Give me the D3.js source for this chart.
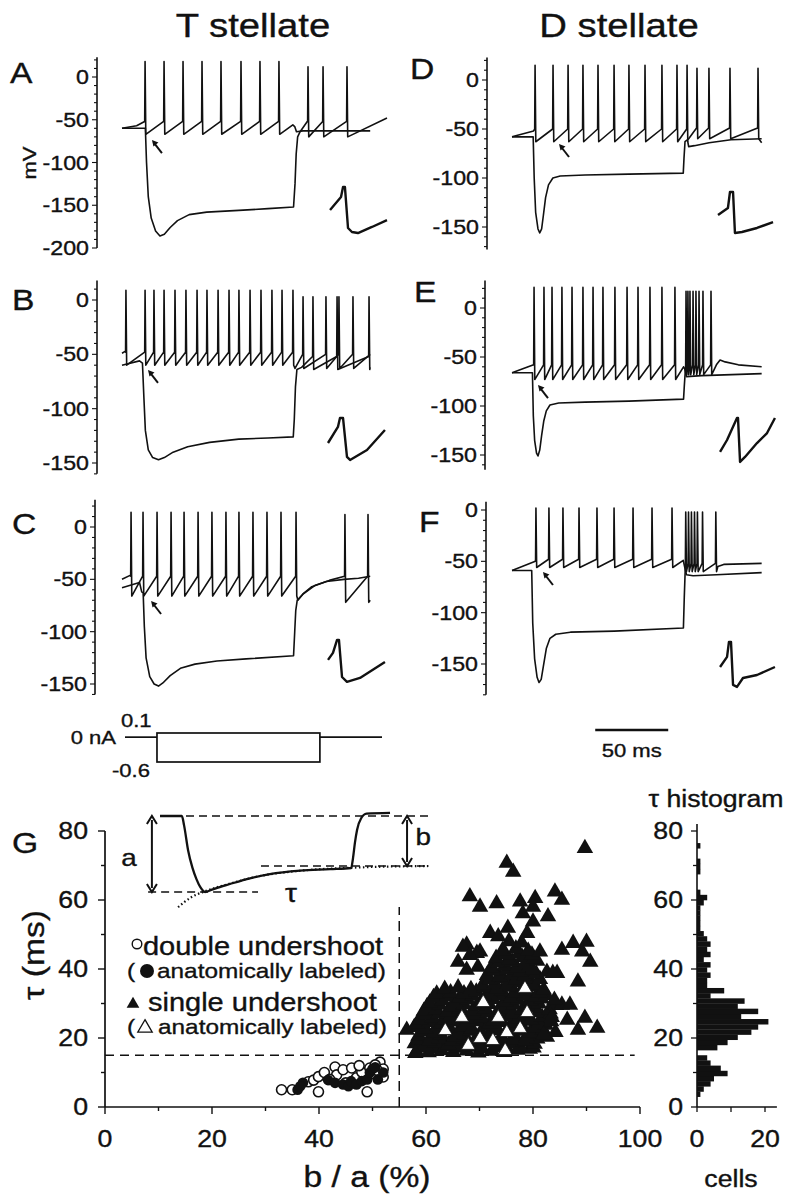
<!DOCTYPE html>
<html><head><meta charset="utf-8">
<script src="https://cdn.jsdelivr.net/npm/d3@7"></script>
<style>
body{margin:0;background:#fff}
svg{display:block}
text{font-family:"Liberation Sans",Arial,sans-serif;fill:#111;stroke:#111;stroke-width:0.35px}
</style></head><body>
<svg id="fig" width="785" height="1199"></svg>
<script>
// ---------------- DATA ----------------
const mvTicks = [0,-50,-100,-150,-200];

// Panel A (T stellate)
const A_depPre = [[0,-60],[10,-57],[15.5,-52]];
const A_depSpikes = [15.8,28.8,41.8,54.8,67.8,81.5,94.5,107.5];
const A_depPost = [[117,-56],[118.3,-58],[119.5,-64],[124,-63],[170,-63]];
const A_hypPre = [[0,-60],[16,-60],[16.8,-100],[18,-140],[20,-165],[23,-180],[26,-186],[29,-184],[33,-176],[38,-168],[46,-161],[58,-158],[80,-156],[100,-154],[117.5,-152],[118.5,-125],[119.3,-90],[120.3,-70],[122,-64],[126.9,-52]];
const A_hypSpikes = [127.4,137.7,154.1];
const A_hypPost = [[181.5,-48]];
const A_inset = [[142.5,-155.6],[150,-140.4],[151.4,-128.7],[152.7,-128.7],[154.8,-176.6],[157.5,-181.3],[161.6,-182.5],[171.2,-175.4],[181.5,-167.3]];
const A_arrow = [20.5,-73.7];

// Panel B
const B_depPre = [[0,-49],[2.4,-47]];
const B_depSpikes = [2.7,15.8,21.9,28.8,36.3,43.8,51.4,58.2,65.8,73.3,80.1,87.7,95.2,102.7,109.6,117.1];
const B_depMid = [[118.5,-63]];
const B_depSpikes2 = [124,139.7,148.6,158.2];
const B_depPost = [[170,-50]];
const B_hypPre = [[0,-60],[12,-56],[14,-58],[15,-90],[16,-120],[18,-138],[21,-145],[25,-147],[29,-145],[35,-140],[45,-135],[60,-131],[80,-128],[100,-127],[117.3,-126],[118,-110],[118.8,-80],[119.8,-64],[123,-62],[130.5,-52]];
const B_hypSpikes = [130.8,147.3,169.2];
const B_hypPost = [[170,-62]];
const B_inset = [[141.1,-131.6],[147.9,-116.8],[149.3,-108.6],[151.4,-108.6],[154.1,-144.4],[156.2,-147.2],[167.8,-138],[180.1,-119.6]];
const B_arrow = [17.8,-64.4];

// Panel C
const C_depPre = [[0,-50],[5.9,-46]];
const C_depSpikes = [6.2,14.4,24,33.6,42.5,52.1,61.6,71.2,80.1,89.7,99.3,108.9,119.2];
const C_depPost = [[120.5,-70],[124,-64],[130,-57],[140,-52],[152,-50],[162,-49],[170,-47]];
const C_hypPre = [[0,-58],[12,-53],[13.5,-62],[14.5,-63],[15.3,-95],[16.5,-125],[19,-143],[22,-150],[25,-152],[28,-149],[33,-142],[40,-135],[50,-131],[65,-128],[85,-126],[117.5,-123],[118.3,-100],[119,-80],[120,-70],[124,-64],[132,-56],[142,-51],[152.4,-47]];
const C_hypSpikes = [152.7,168.5];
const C_hypPost = [[170,-70]];
const C_inset = [[141.1,-127],[144.5,-120.3],[147.3,-107.9],[148.6,-107.9],[150.7,-143.3],[154.1,-148],[163,-144.2],[180.1,-128.9]];
const C_arrow = [19.9,-70.7];

// Panel D (D stellate)
const D_depPre = [[0,-58],[14.8,-52]];
const D_depSpikes = [15.8,28.1,38.4,48.6,58.9,69.9,80.1,91.1,102.7,113,119.9];
const D_depPost = [[121,-68],[125,-67],[135,-64],[150,-61],[171,-60]];
const D_hypPre = [[0,-58],[14.5,-58],[15.2,-100],[16.2,-135],[17.8,-152],[19,-156],[20.3,-152],[21.5,-138],[23,-120],[25,-107],[28,-100],[33,-98],[50,-97],[80,-96],[117.3,-95],[117.8,-80],[118.5,-63],[121,-60],[126.4,-49]];
const D_hypSpikes = [126.7,134.9,149.3,168.5];
const D_hypPost = [[171,-64]];
const D_inset = [[141.1,-137.8],[147.9,-130.6],[149.3,-114.3],[151.4,-114.3],[152.7,-156.1],[157.5,-155.1],[167.8,-151],[178.8,-144.9]];
const D_arrow = [32.2,-65.3];

// Panel E
const E_depPre = [[0,-66],[14.8,-58]];
const E_depSpikes = [15.1,21.9,27.4,34.2,41.1,48.6,55.5,62.3,70.5,78.8,86.3,94.5,102.7,111.6];
const E_depPost = [[117.5,-60],[118.3,-62],[119.5,-70],[130,-69],[171,-67]];
const E_hypPre = [[0,-66],[14,-66],[14.6,-110],[15.5,-135],[16.8,-148],[17.8,-151],[19,-145],[20.3,-130],[21.8,-115],[23.5,-105],[26,-99],[32,-97],[50,-96],[80,-95],[117.5,-93],[118,-80],[118.8,-62]];
const E_hypSpikes = [119.2,120.5,121.9,124,126,128.1,130.8,136.3];
const E_hypPost = [[140,-58],[142.5,-53],[146,-55],[155,-58],[171,-60]];
const E_inset = [[142.5,-146.9],[147.3,-134.7],[154.1,-112.2],[154.8,-112.2],[156.2,-157.1],[159.6,-152],[167.8,-137.8],[174.7,-127.6],[180.1,-112.2]];
const E_arrow = [17.8,-78.6];

// Panel F
const F_depPre = [[0,-59],[16,-50]];
const F_depSpikes = [16.4,25.3,34.9,45.9,58.2,69.9,82.9,95.9,109.6];
const F_depPost = [[117.3,-49],[118.2,-55],[119.5,-63],[124,-64],[140,-63],[171,-61]];
const F_hypPre = [[0,-59],[13.5,-59],[14.2,-110],[15.5,-145],[17.2,-163],[18.5,-168],[20,-165],[21.5,-152],[23.5,-135],[26,-125],[30,-121],[40,-119],[70,-118],[117.4,-115],[118,-85],[118.6,-60]];
const F_hypSpikes = [119,120.9,122.9,125,127,130.5,139.6];
const F_hypPost = [[141,-55],[145,-53],[171,-52]];
const F_inset = [[142.5,-152.9],[147.3,-143.1],[148.6,-128.5],[150,-128.5],[151.4,-170.4],[154.1,-172.3],[158.2,-163.6],[167.8,-160.7],[180.1,-152.9]];
const F_arrow = [21.2,-60.4];

// current step protocol (ms, nA)
const stepOn = 22.4, stepOff = 136.5, stepEnd = 180;
const stepLevels = [0.1, -0.6];
const scaleBarMs = [57, 107];

// Panel G scatter: [b/a %, tau ms]
const singleBlack = [
[58.2,16.1],[60.5,15.8],[62.9,16.4],[65.1,15.9],[67.6,16.3],[69.8,15.7],[72.3,16.2],[74.6,15.9],[77.1,16.5],[79.4,16.8],
[59.1,17.2],[61.4,17.0],[63.6,17.5],[66.0,17.1],[68.3,17.4],[70.5,16.9],[72.9,17.3],[75.2,17.0],[77.6,17.6],[80.1,17.2],
[57.9,18.4],[59.8,17.9],[61.7,18.6],[64.2,18.1],[66.4,18.8],[68.9,18.2],[71.2,18.7],[73.5,18.0],[75.9,18.5],[78.2,18.9],[80.3,18.3],
[58.4,19.5],[60.6,19.1],[62.5,19.8],[64.9,19.3],[67.1,19.7],[69.4,19.2],[71.6,19.9],[73.9,19.4],[76.3,19.6],[78.6,19.1],[80.8,19.8],[82.6,20.3],
[58.6,20.6],[60.9,20.2],[62.8,21.0],[65.3,20.4],[67.2,20.9],[69.5,20.3],[71.8,21.1],[74.1,20.5],[76.5,20.8],[78.8,20.2],[81.0,21.3],
[59.2,21.8],[61.5,21.6],[63.7,22.1],[66.0,21.7],[68.2,22.0],[70.4,21.5],[72.6,22.2],[75.0,21.8],[77.3,22.0],[79.5,21.6],[81.9,22.4],[84.2,21.7],
[57.8,23.1],[59.9,22.7],[62.1,23.4],[64.4,22.9],[66.7,23.3],[68.6,22.6],[70.9,23.5],[73.2,22.8],[75.6,23.2],[77.9,23.6],[80.2,22.9],[82.4,23.8],
[58.3,24.2],[60.6,24.6],[62.8,24.1],[65.1,24.7],[67.4,24.3],[69.6,24.8],[71.9,24.2],[74.2,24.6],[76.6,24.4],[78.9,24.9],[81.1,24.3],[83.4,24.8],
[58.9,25.4],[61.2,25.9],[63.5,25.2],[65.8,26.0],[68.1,25.5],[70.4,25.8],[72.7,25.1],[74.9,26.2],[77.3,25.6],[79.6,25.3],[81.7,26.1],
[60.1,26.7],[62.4,27.1],[64.7,26.6],[67.0,27.2],[69.3,26.8],[71.6,27.3],[73.9,26.6],[76.2,27.1],[78.6,26.9],[80.9,27.4],[83.3,27.0],
[59.6,27.8],[61.9,28.3],[64.0,27.6],[66.3,28.5],[68.7,27.9],[71.0,28.4],[73.4,27.7],[75.7,28.6],[78.0,28.1],[80.4,28.8],[83.1,28.3],
[60.2,29.2],[62.5,29.6],[64.8,29.1],[67.1,29.7],[69.5,29.3],[71.8,29.8],[74.1,29.2],[76.4,29.6],[78.8,29.4],[81.1,29.9],[84.3,29.5],
[60.7,30.2],[63.1,30.9],[65.4,30.4],[67.8,31.1],[70.3,30.6],[72.5,31.2],[74.8,30.5],[77.2,31.0],[79.5,30.7],[81.6,31.4],
[61.4,31.8],[63.9,32.1],[66.3,31.7],[68.7,32.2],[71.1,31.9],[73.6,32.3],[75.9,31.7],[78.3,32.2],[80.5,31.9],[82.5,32.4],
[62.0,32.8],[64.6,33.2],[67.1,32.9],[69.4,33.4],[71.9,33.0],[74.2,33.6],[76.6,33.1],[78.9,33.7],[81.2,33.2],
[63.5,34.2],[66.0,34.6],[68.4,34.1],[70.9,34.5],[73.3,34.3],[75.8,34.8],[78.1,34.4],[80.4,34.9],
[70.6,35.4],[72.9,35.9],[75.3,35.6],[77.6,36.1],[79.9,35.5],
[71.9,36.9],[74.4,37.3],[76.8,36.8],[79.2,37.2],[81.3,37.0],
[71.4,38.2],[73.8,37.8],[76.1,38.5],[78.4,38.0],[80.6,38.6],
[72.7,39.4],[75.2,39.8],[77.6,39.3],[79.9,39.7],
[72.2,40.4],[74.7,40.9],[77.0,40.3],[79.3,40.8],
[73.6,41.8],[76.1,42.2],[78.6,41.7],[80.8,42.3],
[73.1,43.2],[75.6,42.7],[78.0,43.4],[80.2,42.9],
[74.9,44.2],[77.4,44.6],[79.8,44.1],
[74.3,45.4],[76.8,45.9],[79.1,45.2],[75.5,48.0],[77.9,47.6],
[89.7,75],[75.1,70.7],[76.3,68.1],[68.2,61],[70.1,58],[73.2,59],[77.6,59.5],[80.4,60.5],[84.1,62.4],[85.4,60],[80,58],[78.1,56.1],
[82.8,55.2],[80,53.7],[75.3,51.9],[72,50.4],[73.5,49.4],[78.9,50.4],[67.6,47],[69.5,44.6],[66,42],[67.6,39.7],[69.7,40.6],
[81.3,45],[85.4,45.5],[87.5,47.5],[90,47.8],[89.2,45],[90.7,42],[82.6,39.1],[84.5,38.8],[88.4,36.3],[56.4,22.3],[58,15.6],
[92,22.9],[88.4,22.3],[86.4,25.2],[89.7,25.8],[85.4,29.6],[86.9,29.6],[83.7,38.8],[66.9,46.4],[70.1,45],[68.2,44],[82,34],[84,31],[83.5,26],[82,21]
];
const singleLabeled = [[70.7,30.4],[66.7,26.1],[73.5,26.1],[63.6,22.3],[70.1,20],[72.5,19.4],[67.9,18],[75.1,21.7],[77.6,22.9],[78.9,27.5],[74.8,16.5],[78.5,34.5]];
const doubleOpen = [[33,5],[35,5],[38,7.3],[39,7.8],[39.9,4.4],[39.9,8.8],[41,10],[43,11.6],[43.3,9.3],[44.5,10.8],[46.1,11.3],[47,8.5],[48,10.1],[49,4.4],[49.5,11.3],[50.5,9.5],[51.4,13],[52,8.7],[52,11],[42,8],[45,7],[47.5,12],[50.5,12.2],[51,10.5]];
const doubleLabeled = [[36,5],[37,7],[36.5,6],[41.7,7.8],[43,7],[44.5,6.5],[45.5,6],[46,7.5],[47,6.5],[48,7.5],[49,8],[49.5,10],[50,11],[50.5,11.5],[51,8],[52,10]];
const tauThreshold = 15, ratioThreshold = 55;
const gXTicks = [0,20,40,60,80,100];
const gYTicks = [0,20,40,60,80];

// tau histogram: bin lower edge (ms), width 1.5, cell counts
const histBins = [3,4.5,6,7.5,9,10.5,12,13.5,15,16.5,18,19.5,21,22.5,24,25.5,27,28.5,30,31.5,33,34.5,36,37.5,39,40.5,42,43.5,45,46.5,48,49.5,51,52.5,54,55.5,57,58.5,60,61.5,67.5,69,70.5,75];
const histCounts = [1,2,4,5,9,7,4,3,0,6,9,12,16,18,21,13,18,12,14,4,8,3,3,4,3,4,2,4,3,4,3,2,1,1,1,1,1,2,3,1,1,1,1,1];
const histXTicks = [0,20];

// G inset schematic (u: time units 0-100, v: level, 0 = trough, 1 = baseline)
const insetTrace = [[0,1],[8.1,1],[8.9,0.88],[10.4,0.55],[12,0.32],[13.5,0.17],[15,0.06],[16.7,0],[18.5,0.02],[20.4,0.045],[25.9,0.105],[33.3,0.18],[40.7,0.235],[51.9,0.28],[63,0.3],[70.8,0.316],[71.5,0.45],[72.2,0.65],[73,0.82],[74.5,0.97],[76.5,1.03],[85.2,1.04]];
const insetFit = [[6.7,-0.2],[11.5,-0.07],[16.7,0.01],[25.9,0.11],[37,0.21],[51.9,0.28],[70,0.318],[85,0.335],[100,0.342]];
const insetB = 0.342;

// ---------------- DRAWING ----------------
const svg = d3.select('#fig');
const SX = 1.16;
function txt(g, s, x, y, size, anchor, rot, weight){
  const t = g.append('text')
    .attr('transform', `translate(${x},${y})` + (rot?` rotate(${rot})`:'') + ` scale(${SX},1)`)
    .attr('font-size', size).attr('text-anchor', anchor||'start').text(s);
  if(weight) t.attr('font-weight', weight);
  return t;
}

function buildTrace(parts){
  const pts = [];
  parts.forEach(p => {
    if (Array.isArray(p)) p.forEach(d => pts.push(d));
    else p.spikes.forEach(ts => { pts.push([ts-0.25,p.thr]); pts.push([ts,p.peak]); pts.push([ts+0.5,p.trough]); });
  });
  return pts;
}

const colL = d3.scaleLinear().domain([0,100]).range([122,268]);
const colR = d3.scaleLinear().domain([0,100]).range([512,658]);

const panels = [
  {L:'A', x:colL, ax:97, y:d3.scaleLinear().domain([0,-200]).range([77,248]), ext:[23,-200], lp:[10,83], mV:true,
   traces:[buildTrace([A_depPre,{spikes:A_depSpikes,thr:-52,peak:18,trough:-67},A_depPost]),
           buildTrace([A_hypPre,{spikes:A_hypSpikes,thr:-52,peak:12,trough:-70},A_hypPost])], inset:A_inset, arrow:A_arrow},
  {L:'B', x:colL, ax:97, y:d3.scaleLinear().domain([0,-150]).range([300,463]), ext:[18,-160], lp:[12,310],
   traces:[buildTrace([B_depPre,{spikes:B_depSpikes,thr:-48,peak:9,trough:-60},B_depMid,{spikes:B_depSpikes2,thr:-50,peak:3,trough:-63},B_depPost]),
           buildTrace([B_hypPre,{spikes:B_hypSpikes,thr:-52,peak:3,trough:-64},B_hypPost])], inset:B_inset, arrow:B_arrow},
  {L:'C', x:colL, ax:95, y:d3.scaleLinear().domain([0,-150]).range([527,684]), ext:[26,-160], lp:[12,534],
   traces:[buildTrace([C_depPre,{spikes:C_depSpikes,thr:-47,peak:14,trough:-66},C_depPost]),
           buildTrace([C_hypPre,{spikes:C_hypSpikes,thr:-47,peak:12,trough:-72},C_hypPost])], inset:C_inset, arrow:C_arrow},
  {L:'D', x:colR, ax:487, y:d3.scaleLinear().domain([0,-150]).range([80,227]), ext:[23,-173], lp:[410,79],
   traces:[buildTrace([D_depPre,{spikes:D_depSpikes,thr:-50,peak:15,trough:-63},D_depPost]),
           buildTrace([D_hypPre,{spikes:D_hypSpikes,thr:-49,peak:12,trough:-60},D_hypPost])], inset:D_inset, arrow:D_arrow},
  {L:'E', x:colR, ax:485, y:d3.scaleLinear().domain([0,-150]).range([308,455]), ext:[28,-165], lp:[414,302],
   traces:[buildTrace([E_depPre,{spikes:E_depSpikes,thr:-58,peak:21,trough:-73},E_depPost]),
           buildTrace([E_hypPre,{spikes:E_hypSpikes,thr:-58,peak:17,trough:-68},E_hypPost])], inset:E_inset, arrow:E_arrow},
  {L:'F', x:colR, ax:486, y:d3.scaleLinear().domain([0,-150]).range([510,664]), ext:[8,-180], lp:[419,532],
   traces:[buildTrace([F_depPre,{spikes:F_depSpikes,thr:-48,peak:2,trough:-56},F_depPost]),
           buildTrace([F_hypPre,{spikes:F_hypSpikes,thr:-52,peak:-2,trough:-60},F_hypPost])], inset:F_inset, arrow:F_arrow}
];

txt(svg,'T stellate',253,37,33,'middle');
txt(svg,'D stellate',619,37,33,'middle');

panels.forEach(p => {
  const g = svg.append('g');
  g.append('line').attr('x1',p.ax).attr('x2',p.ax).attr('y1',p.y(p.ext[0])).attr('y2',p.y(p.ext[1]))
    .attr('stroke','#111').attr('stroke-width',1.6);
  for(let v=0; v>=p.ext[1]; v-=10){
    const major = v%50===0;
    g.append('line').attr('x1',p.ax-(major?5:3)).attr('x2',p.ax).attr('y1',p.y(v)).attr('y2',p.y(v))
      .attr('stroke','#111').attr('stroke-width',1.1);
  }
  for(let v=10; v<=p.ext[0]; v+=10){
    g.append('line').attr('x1',p.ax-3).attr('x2',p.ax).attr('y1',p.y(v)).attr('y2',p.y(v)).attr('stroke','#111').attr('stroke-width',1.1);
  }
  mvTicks.filter(v=>v>=p.ext[1]).forEach(v => txt(g, String(v), p.ax-8, p.y(v)+7, 20, 'end'));
  txt(g, p.L, p.lp[0], p.lp[1], 29, 'start');
  if(p.mV) txt(g,'mV',36,163,19,'middle',-90);
  const line = d3.line().x(d=>p.x(d[0])).y(d=>p.y(d[1]));
  p.traces.forEach(tr => g.append('path').attr('d',line(tr)).attr('fill','none').attr('stroke','#111')
      .attr('stroke-width',1.6).attr('stroke-linejoin','round'));
  g.append('path').attr('d',line(p.inset)).attr('fill','none').attr('stroke','#111').attr('stroke-width',2.4).attr('stroke-linejoin','round');
  const tx = p.x(p.arrow[0]), ty = p.y(p.arrow[1]);
  g.append('line').attr('x1',tx+3).attr('y1',ty+4).attr('x2',tx+10).attr('y2',ty+13).attr('stroke','#111').attr('stroke-width',2);
  g.append('path').attr('d',`M${tx},${ty} L${tx+6.5},${ty+2.5} L${tx+1.5},${ty+6.5} Z`).attr('fill','#111');
});

// current protocol
const sx = d3.scaleLinear().domain([0,stepEnd]).range([125,382]);
const sy = d3.scaleLinear().domain(stepLevels).range([733,762]);
const pg = svg.append('g').attr('fill','none').attr('stroke','#111').attr('stroke-width',1.7);
pg.append('line').attr('x1',sx(0)).attr('x2',sx(stepOn)).attr('y1',sy(0)).attr('y2',sy(0));
pg.append('line').attr('x1',sx(stepOff)).attr('x2',sx(stepEnd)).attr('y1',sy(0)).attr('y2',sy(0));
pg.append('rect').attr('x',sx(stepOn)).attr('y',sy(stepLevels[0])).attr('width',sx(stepOff)-sx(stepOn)).attr('height',sy(stepLevels[1])-sy(stepLevels[0]));
txt(svg,'0 nA',116,744,19,'end');
txt(svg,String(stepLevels[0]),121,727,19,'start');
txt(svg,String(stepLevels[1]),112,777,19,'start');

// scale bar
svg.append('line').attr('x1',colR(scaleBarMs[0])).attr('x2',colR(scaleBarMs[1])).attr('y1',730).attr('y2',730).attr('stroke','#111').attr('stroke-width',2.6);
txt(svg,(scaleBarMs[1]-scaleBarMs[0])+' ms',colR((scaleBarMs[0]+scaleBarMs[1])/2),757,19,'middle');

// ---------------- Panel G ----------------
const gx = d3.scaleLinear().domain([0,100]).range([105,640]);
const gy = d3.scaleLinear().domain([0,80]).range([1107,831]);
const G = svg.append('g');
G.append('line').attr('x1',gx(0)).attr('x2',gx(100)).attr('y1',gy(0)).attr('y2',gy(0)).attr('stroke','#111').attr('stroke-width',1.7);
G.append('line').attr('x1',gx(0)).attr('x2',gx(0)).attr('y1',gy(0)).attr('y2',gy(80)).attr('stroke','#111').attr('stroke-width',1.7);
for(let v=0; v<=100; v+=10){
  G.append('line').attr('x1',gx(v)).attr('x2',gx(v)).attr('y1',gy(0)).attr('y2',gy(0)+(v%20===0?7:4)).attr('stroke','#111').attr('stroke-width',1.4);
}
for(let v=0; v<=80; v+=10){
  G.append('line').attr('x1',gx(0)-(v%20===0?7:4)).attr('x2',gx(0)).attr('y1',gy(v)).attr('y2',gy(v)).attr('stroke','#111').attr('stroke-width',1.4);
}
gXTicks.forEach(v => txt(G,String(v),gx(v),1147,23,'middle'));
gYTicks.forEach(v => txt(G,String(v),88,gy(v)+8,23,'end'));
txt(G,'b / a (%)',367,1187,29,'middle');
txt(G,'τ (ms)',44,955,29,'middle',-90);
txt(G,'G',12,853,29,'start');

G.append('line').attr('x1',gx(0)).attr('x2',gx(99)).attr('y1',gy(tauThreshold)).attr('y2',gy(tauThreshold))
  .attr('stroke','#111').attr('stroke-width',1.3).attr('stroke-dasharray','9,6');
G.append('line').attr('x1',gx(ratioThreshold)).attr('x2',gx(ratioThreshold)).attr('y1',gy(0)).attr('y2',gy(58))
  .attr('stroke','#111').attr('stroke-width',1.5).attr('stroke-dasharray','10,6');

const tri = d3.symbol().type(d3.symbolTriangle).size(118);
G.selectAll('.tb').data(singleBlack).join('path').attr('transform',d=>`translate(${gx(d[0])},${gy(d[1])})`).attr('d',tri).attr('fill','#111');
G.selectAll('.tw').data(singleLabeled).join('path').attr('transform',d=>`translate(${gx(d[0])},${gy(d[1])+0.5})`)
  .attr('d',d3.symbol().type(d3.symbolTriangle).size(80)).attr('fill','#fff').attr('stroke','#111').attr('stroke-width',0.8);
G.selectAll('.co').data(doubleOpen).join('circle').attr('cx',d=>gx(d[0])).attr('cy',d=>gy(d[1])).attr('r',5)
  .attr('fill','#fff').attr('stroke','#111').attr('stroke-width',1.6);
G.selectAll('.cf').data(doubleLabeled).join('circle').attr('cx',d=>gx(d[0])).attr('cy',d=>gy(d[1])).attr('r',5.3).attr('fill','#111');

// legend
G.append('circle').attr('cx',137).attr('cy',944).attr('r',4.8).attr('fill','#fff').attr('stroke','#111').attr('stroke-width',1.4);
txt(G,'double undershoot',143,955,25,'start');
txt(G,'(',127,978,21,'start');
G.append('circle').attr('cx',147).attr('cy',971).attr('r',7).attr('fill','#111');
txt(G,'anatomically labeled)',157,978,21,'start');
G.append('path').attr('transform','translate(133,1004)').attr('d',d3.symbol().type(d3.symbolTriangle).size(70)).attr('fill','#111');
txt(G,'single undershoot',148,1011,25,'start');
txt(G,'(',127,1034,21,'start');
G.append('path').attr('transform','translate(145,1028)').attr('d',d3.symbol().type(d3.symbolTriangle).size(90)).attr('fill','none').attr('stroke','#111').attr('stroke-width',1.3);
txt(G,'anatomically labeled)',158,1034,21,'start');

// inset schematic
const iu = d3.scaleLinear().domain([0,100]).range([160,430]);
const iv = d3.scaleLinear().domain([0,1]).range([892,816]);
const I = svg.append('g');
const dash = (u1,u2,v) => I.append('line').attr('x1',iu(u1)).attr('x2',iu(u2)).attr('y1',iv(v)).attr('y2',iv(v))
   .attr('stroke','#111').attr('stroke-width',1.3).attr('stroke-dasharray','8,5');
dash(0,100,1); dash(-4.4,36.3,0); dash(37.4,100,insetB);
I.append('path').attr('d',d3.line().x(d=>iu(d[0])).y(d=>iv(d[1])).curve(d3.curveMonotoneX)(insetFit))
  .attr('fill','none').attr('stroke','#111').attr('stroke-width',2.2).attr('stroke-dasharray','1.5,2.5');
I.append('path').attr('d',d3.line().x(d=>iu(d[0])).y(d=>iv(d[1])).curve(d3.curveMonotoneX)(insetTrace))
  .attr('fill','none').attr('stroke','#111').attr('stroke-width',2.3);
function dblArrow(u, v1, v2){
  const x=iu(u), y1=iv(v2), y2=iv(v1);
  I.append('line').attr('x1',x).attr('x2',x).attr('y1',y1+4).attr('y2',y2-4).attr('stroke','#111').attr('stroke-width',2);
  I.append('path').attr('d',`M${x-5},${y1+8} L${x},${y1} L${x+5},${y1+8}`).attr('fill','none').attr('stroke','#111').attr('stroke-width',2);
  I.append('path').attr('d',`M${x-5},${y2-8} L${x},${y2} L${x+5},${y2-8}`).attr('fill','none').attr('stroke','#111').attr('stroke-width',2);
}
dblArrow(-3,0,1); dblArrow(91.5,insetB,1);
txt(I,'a',iu(-11.5),iv(0.42)+6,24,'middle');
txt(I,'b',iu(97.5),iv(0.72)+8,24,'middle');
txt(I,'τ',iu(48.5),iv(-0.02)+8,26,'middle');

// histogram
const hx = d3.scaleLinear().domain([0,20]).range([697,765]);
const H = svg.append('g');
H.selectAll('rect').data(histBins).join('rect').attr('x',hx(0)).attr('y',d=>gy(d+1.5)).attr('height',d=>gy(d)-gy(d+1.5)+0.3)
  .attr('width',(d,i)=>hx(histCounts[i])-hx(0)).attr('fill','#111');
H.append('line').attr('x1',hx(0)).attr('x2',hx(23.5)).attr('y1',gy(0)).attr('y2',gy(0)).attr('stroke','#111').attr('stroke-width',1.6);
H.append('line').attr('x1',hx(0)).attr('x2',hx(0)).attr('y1',gy(0)).attr('y2',gy(82)).attr('stroke','#111').attr('stroke-width',1.6);
for(let v=0; v<=80; v+=10) H.append('line').attr('x1',hx(0)-(v%20===0?6:4)).attr('x2',hx(0)).attr('y1',gy(v)).attr('y2',gy(v)).attr('stroke','#111').attr('stroke-width',1.3);
[0,10,20].forEach(v => H.append('line').attr('x1',hx(v)).attr('x2',hx(v)).attr('y1',gy(0)).attr('y2',gy(0)+5).attr('stroke','#111').attr('stroke-width',1.3));
gYTicks.forEach(v => txt(H,String(v),683,gy(v)+8,23,'end'));
histXTicks.forEach(v => txt(H,String(v),hx(v),1147,23,'middle'));
txt(H,'cells',731,1187,23,'middle');
txt(H,'τ histogram',716,807,23,'middle');
</script></body></html>
